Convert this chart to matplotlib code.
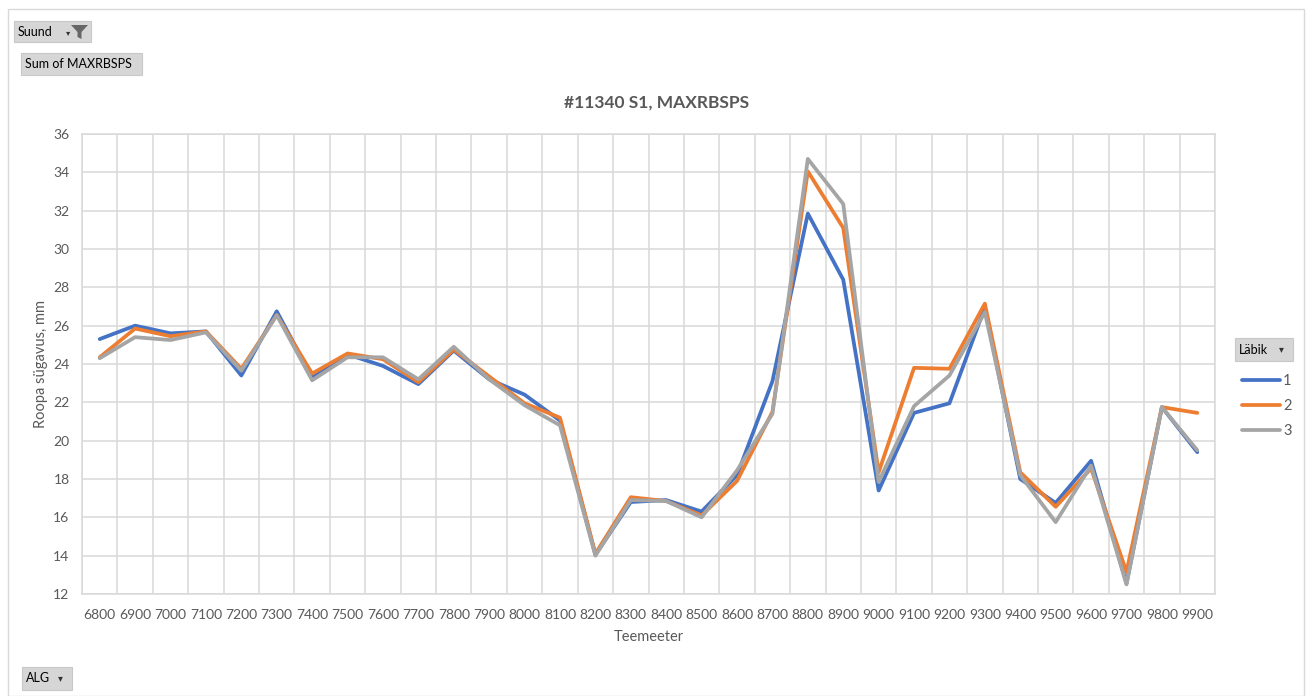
import numpy as np
import matplotlib.pyplot as plt
from matplotlib.patches import Rectangle, Polygon

plt.rcParams['font.family'] = ['Lato', 'DejaVu Sans']

# Teemeeter categories
meters = [6800, 6900, 7000, 7100, 7200, 7300, 7400, 7500, 7600, 7700,
          7800, 7900, 8000, 8100, 8200, 8300, 8400, 8500, 8600, 8700,
          8800, 8900, 9000, 9100, 9200, 9300, 9400, 9500, 9600, 9700,
          9800, 9900]

# Läbik 1, 2, 3 (Roopa sügavus, mm)
labik1 = [25.3, 26.0, 25.6, 25.7, 23.4, 26.75, 23.3, 24.5, 23.9, 22.95,
          24.7, 23.2, 22.4, 21.05, 14.05, 16.8, 16.9, 16.3, 18.2, 23.1,
          31.85, 28.4, 17.4, 21.45, 21.95, 26.95, 18.0, 16.75, 18.95, 12.55,
          21.75, 19.4]
labik2 = [24.35, 25.85, 25.45, 25.7, 23.75, 26.55, 23.5, 24.55, 24.25, 23.05,
          24.75, 23.35, 21.95, 21.2, 14.1, 17.05, 16.85, 16.1, 17.9, 21.5,
          34.05, 31.1, 18.35, 23.8, 23.75, 27.15, 18.35, 16.55, 18.55, 13.15,
          21.75, 21.45]
labik3 = [24.3, 25.4, 25.25, 25.65, 23.65, 26.55, 23.15, 24.35, 24.35, 23.2,
          24.9, 23.2, 21.85, 20.8, 14.0, 16.9, 16.85, 16.0, 18.45, 21.4,
          34.7, 32.35, 17.85, 21.8, 23.4, 26.7, 18.2, 15.75, 18.7, 12.5,
          21.75, 19.5]

series = [("1", labik1, "#4472C4"), ("2", labik2, "#ED7D31"), ("3", labik3, "#A5A5A5")]
txt = "#595959"
grid_c = "#D9D9D9"

W, H = 1312, 696
fig = plt.figure(figsize=(W / 100, H / 100), dpi=100)
ax = fig.add_axes([82 / W, 1 - 594 / H, (1215 - 82) / W, (594 - 134) / H])

x = np.arange(len(meters))
handles = []
for name, vals, col in series:
    h, = ax.plot(x, vals, color=col, lw=2.7, solid_joinstyle="round",
                 solid_capstyle="round", label=name)
    handles.append(h)

ax.set_xlim(-0.5, len(meters) - 0.5)
ax.set_ylim(12, 36)
ax.set_yticks(np.arange(12, 37, 2))
ax.set_xticks(x)
ax.set_xticklabels([str(m) for m in meters])
ax.set_xticks(np.arange(-0.5, len(meters), 1), minor=True)
ax.tick_params(axis="both", which="both", length=0, labelsize=10, colors=txt)
ax.tick_params(axis="x", pad=11)
ax.tick_params(axis="y", pad=9)
ax.grid(axis="y", which="major", color=grid_c, lw=1.1)
ax.grid(axis="x", which="minor", color=grid_c, lw=1.1)
ax.set_axisbelow(True)
for s in ax.spines.values():
    s.set_color(grid_c)
    s.set_linewidth(1.1)

ax.set_xlabel("Teemeeter", fontsize=10.5, color=txt)
ax.xaxis.set_label_coords(0.5, -(637 - 594) / (594 - 134), transform=ax.transAxes)
ax.xaxis.label.set_va("center")
ax.set_ylabel("Roopa sügavus, mm", fontsize=10.5, color=txt)
ax.yaxis.set_label_coords(-(82 - 41) / (1215 - 82), 0.5)
ax.yaxis.label.set_va("center")
fig.text(657 / W, 1 - 103 / H, "#11340 S1, MAXRBSPS", ha="center", va="center",
         fontsize=12.5, fontweight="bold", color=txt)

# outer chart border
fig.patches.append(Rectangle((8 / W, 0), (1304 - 8) / W, 1 - 9 / H,
                             transform=fig.transFigure, fill=False,
                             edgecolor="#D9D9D9", lw=1))


def button(x0, y0, x1, y1, label, arrow=False):
    fig.patches.append(Rectangle((x0 / W, 1 - y1 / H), (x1 - x0) / W, (y1 - y0) / H,
                                 transform=fig.transFigure, facecolor="#D6D6D6",
                                 edgecolor="#C8C8C8", lw=0.8))
    fig.text((x0 + 4) / W, 1 - (y0 + y1) / 2 / H, label, ha="left", va="center",
             fontsize=9, color="black")
    if arrow:
        fig.text((x1 - 12) / W, 1 - (y0 + y1) / 2 / H, "▾", ha="center",
                 va="center", fontsize=7, color="#333333",
                 family=["DejaVu Sans"])


button(14, 21, 91, 42, "Suund")
fig.text(68 / W, 1 - 33 / H, "▾", ha="center", va="center", fontsize=6,
         color="#333333", family=["DejaVu Sans"])
fig.patches.append(Polygon([(71 / W, 1 - 25 / H), (88 / W, 1 - 25 / H),
                            (81.5 / W, 1 - 32 / H), (81.5 / W, 1 - 39 / H),
                            (77.5 / W, 1 - 37 / H), (77.5 / W, 1 - 32 / H)],
                           closed=True, transform=fig.transFigure,
                           facecolor="#666666", edgecolor="none"))
button(21, 53, 142, 75, "Sum of MAXRBSPS")
button(22, 667, 72, 690, "ALG", arrow=True)
button(1235, 338, 1293, 361, "Läbik", arrow=True)

fig.legend(handles=handles, loc="upper left",
           bbox_to_anchor=(1232 / W, 1 - 364 / H), frameon=False,
           fontsize=10.5, labelcolor=txt, handlelength=2.6, handletextpad=0.2,
           labelspacing=0.75, borderpad=0.2)

fig.savefig("out.png", dpi=100, facecolor="white")
